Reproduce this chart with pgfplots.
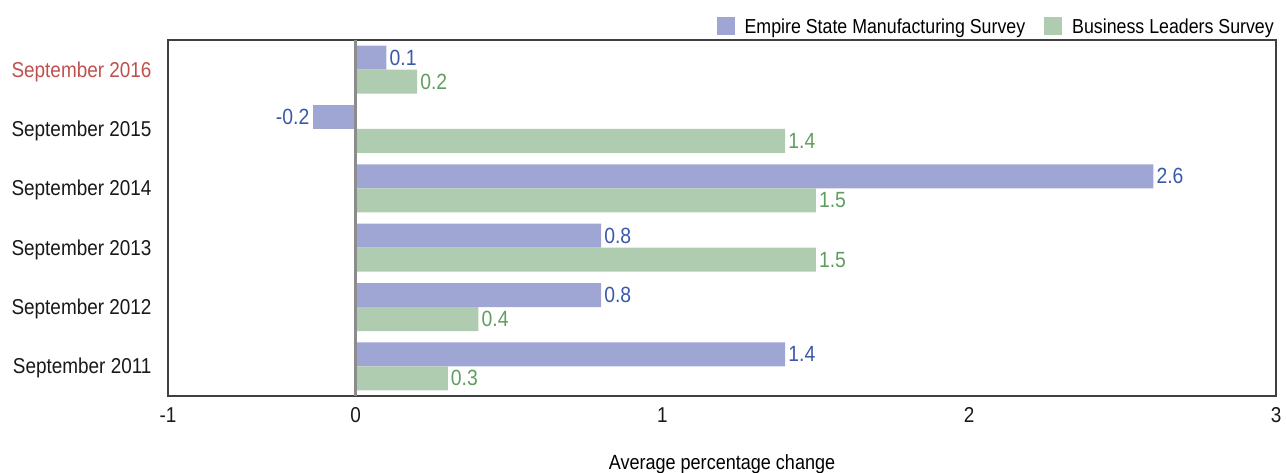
\documentclass[border=0pt]{standalone}
\usepackage{pgfplots}
\usepackage{fontspec}
\setmainfont{Liberation Sans}[FakeStretch=0.88]
\pgfplotsset{compat=1.18}
\definecolor{barblue}{RGB}{160,166,212}
\definecolor{bargreen}{RGB}{176,204,176}
\definecolor{labblue}{RGB}{59,89,170}
\definecolor{labgreen}{RGB}{96,158,96}
\definecolor{labred}{RGB}{192,80,77}
\definecolor{zeroline}{RGB}{140,140,140}
\begin{document}
\begin{tikzpicture}
\begin{axis}[
  name=ax,
  scale only axis, width=1108pt, height=356pt,
  xbar, bar width=24pt,
  xmin=-1, xmax=3, ymin=-0.5, ymax=5.5,
  x coord trafo/.code={\pgfmathparse{(#1<0) ? 0.612*(#1) : (#1)}},
  x coord inv trafo/.code={\pgfmathparse{(#1<0) ? (#1)/0.612 : (#1)}},
  xtick={-1,0,1,2,3}, xticklabels={-1,0,1,2,3},
  ytick={0,1,2,3,4,5},
  yticklabels={September 2011,September 2012,September 2013,September 2014,September 2015,\textcolor{labred}{September 2016}},
  major tick length=0pt,
  axis line style={black!75, line width=1.5pt},
  tick label style={font=\fontsize{21.5}{25}\selectfont, text=black!90},
  yticklabel style={xshift=-13pt, yshift=-2pt},
  xticklabel style={yshift=-8pt},
  xlabel={Average percentage change},
  xlabel style={font=\fontsize{20.5}{24}\selectfont, yshift=-25pt},
  legend style={at={(1,1)}, anchor=south east, draw=none, fill=none, legend columns=2,
    font=\fontsize{20.2}{24}\selectfont, yshift=3pt, inner sep=0pt,
    /tikz/every even column/.append style={column sep=17pt}},
  legend image code/.code={\fill[#1, draw=none] (0pt,-8pt) rectangle (18pt,10pt); \path (26pt,0pt);},
  point meta=explicit symbolic,
  nodes near coords,
]
\addplot[fill=barblue, draw=none, bar shift=12pt,
  every node near coord/.append style={anchor=west, text=labblue, font=\fontsize{22}{26}\selectfont, inner sep=3pt}]
  coordinates {(1.4,0)[1.4] (0.8,1)[0.8] (0.8,2)[0.8] (2.6,3)[2.6] (0.1,5)[0.1]};
\addlegendentry{Empire State Manufacturing Survey}
\addplot[fill=bargreen, draw=none, bar shift=-12pt,
  every node near coord/.append style={anchor=west, text=labgreen, font=\fontsize{22}{26}\selectfont, inner sep=3pt}]
  coordinates {(0.3,0)[0.3] (0.4,1)[0.4] (1.5,2)[1.5] (1.5,3)[1.5] (1.4,4)[1.4] (0.2,5)[0.2]};
\addlegendentry{Business Leaders Survey}
\addplot[forget plot, fill=barblue, draw=none, bar shift=12pt,
  every node near coord/.append style={anchor=east, text=labblue, font=\fontsize{22}{26}\selectfont, inner sep=3pt}]
  coordinates {(-0.23,4)[-0.2]};
\draw[zeroline, line width=3pt] (axis cs:0,-0.5) -- (axis cs:0,5.5);
\end{axis}
\pgfresetboundingbox
\path[use as bounding box] ([xshift=-168pt,yshift=-76pt]ax.south west) rectangle ([xshift=11pt,yshift=40pt]ax.north east);
\end{tikzpicture}
\end{document}
